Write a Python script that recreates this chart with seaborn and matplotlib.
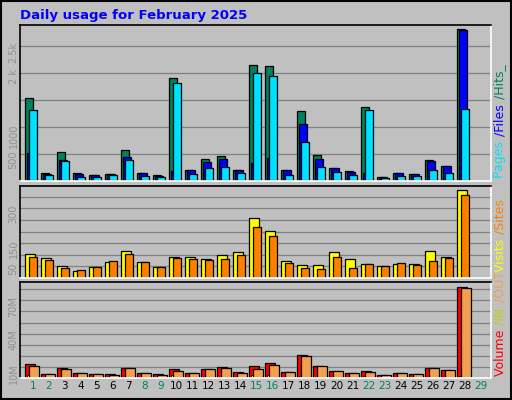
import matplotlib
matplotlib.use("Agg")
import matplotlib.pyplot as plt
import seaborn as sns
import numpy as np

days = list(range(1, 29))
day_labels = [str(d) for d in range(1, 30)]
weekend = {1, 2, 8, 9, 15, 16, 22, 23, 29}
hits = [1537,148,537,148,111,130,574,148,111,1907,204,407,463,204,2148,2130,204,1296,481,241,185,1370,74,148,130,389,278,2815]
files = [512,130,389,123,111,130,444,148,93,185,204,352,407,204,333,426,204,1056,407,241,167,148,74,148,130,370,278,2796]
pages = [1315,111,370,74,74,111,389,93,74,1815,130,241,259,148,2000,1944,111,722,259,167,111,1315,56,93,93,204,148,1333]
visits = [105,88,53,32,49,70,118,70,49,92,92,83,101,114,260,204,75,58,58,114,83,62,53,62,62,118,92,381]
sites = [92,79,45,36,49,75,105,70,49,88,83,79,83,101,222,183,66,45,40,92,45,62,53,66,58,75,88,360]
volume = [12.6,3.6,9,4.5,3.6,3.6,9,4.5,3.6,8.1,4.5,8.1,9.9,5.4,10.8,13.5,5.4,20.7,10.8,6.3,4.5,6.3,2.7,4.5,3.6,9,7.2,82]
vol_out = [10.8,3.6,8.1,4.5,3.6,2.7,9,4.5,2.7,6.3,4.5,8.1,9,4.5,8.1,11.7,5.4,19.8,10.8,6.3,4.5,5.4,2.7,4.5,3.6,9,7.2,81]
vol_in = [2.5,0.3,0.5,0.3,0.3,0.5,0.5,0.3,0.3,2.5,0.3,0.5,0.5,0.3,2.5,2.5,0.3,1.5,0.5,0.5,0.3,1.5,0.3,0.3,0.3,0.5,0.5,1.5]

sns.set_theme(style="white")
plt.rcParams['font.family'] = ['DejaVu Sans']
BG = "#C0C0C0"
fig = plt.figure(figsize=(5.12, 4.0), dpi=100, facecolor=BG)
fig.patches.append(plt.Rectangle((0.002, 0.002), 0.996, 0.996, transform=fig.transFigure,
                                 fill=False, edgecolor="black", lw=1.5))
fig.text(20/512, 1-15/400, "Daily usage for February 2025", color="#0000FF",
         fontsize=9.5, fontweight="bold", va="center", ha="left")

x = np.array(days, dtype=float)
L, W = 20/512, 471/512
axes = [fig.add_axes([L, 1-181/400, W, 156/400]),
        fig.add_axes([L, 1-278/400, W, 92/400]),
        fig.add_axes([L, 1-378/400, W, 96/400])]
for ax in axes:
    ax.set_facecolor(BG)
    ax.set_xlim(0.19, 29.65)
    for s in ["left", "top"]:
        ax.spines[s].set_color("black")
    for s in ["right", "bottom"]:
        ax.spines[s].set_color("white")
    for s in ax.spines.values():
        s.set_linewidth(1.2)
    ax.set_axisbelow(True)
    ax.tick_params(axis="y", length=0, labelsize=7, labelcolor="#909090", pad=1, labelrotation=90)
    ax.tick_params(axis="x", length=0)

kw = dict(edgecolor="black", linewidth=0.9)
a = axes[0]
a.set_ylim(0, 2889)
for g in [500, 1000, 1500, 2000, 2500]:
    a.axhline(g, color="#808080", lw=0.9, zorder=0)
a.bar(x-0.25, hits, 0.5, color="#00805C", **kw)
a.bar(x-0.125, files, 0.5, color="#0000FF", **kw)
a.bar(x, pages, 0.5, color="#00E0FF", **kw)
a.set_yticks([500, 1000, 2000, 2500], ["500", "1000", "2 k", "2.5k"])
a.set_xticks([])

a = axes[1]
a.set_ylim(0, 397)
for g in range(50, 400, 50):
    a.axhline(g, color="#808080", lw=0.9, zorder=0)
a.bar(x-0.19, visits, 0.625, color="#FFFF00", **kw)
a.bar(x, sites, 0.5, color="#FF8000", **kw)
a.set_yticks([50, 150, 300], ["50", "150", "300"])
a.set_xticks([])

a = axes[2]
a.set_ylim(0, 86.5)
for g in range(10, 90, 10):
    a.axhline(g, color="#808080", lw=0.9, zorder=0)
a.bar(x-0.19, volume, 0.625, color="#FF0000", **kw)
a.bar(x-0.31, vol_in, 0.12, color="#FFFF00", edgecolor="black", linewidth=0.5)
a.bar(x+0.06, vol_out, 0.625, color="#F0A050", **kw)
a.set_yticks([10, 40, 70], ["10M", "40M", "70M"])
a.set_xticks(range(1, 30), day_labels)
for t, d in zip(a.get_xticklabels(), range(1, 30)):
    t.set_color("#00805C" if d in weekend else "black")
    t.set_fontsize(7.5)
a.tick_params(axis="x", pad=2)

renderer = fig.canvas.get_renderer()

def side_label(parts, y_bottom):
    y = y_bottom
    for txt, col in parts:
        t = fig.text(500/512, y/400, txt, color=col, fontsize=9, rotation=90,
                     ha="center", va="bottom")
        bb = t.get_window_extent(renderer)
        y += bb.height + 1

side_label([("Pages ", "#00E0FF"), ("/Files ", "#0000FF"), ("/Hits_", "#00805C")], 400-178)
side_label([("Visits ", "#FFFF00"), ("/Sites", "#FF8000")], 400-272)
side_label([("Volume ", "#FF0000"), ("/IN ", "#C8D000"), ("/OUT", "#F0A050")], 400-376)

fig.savefig("out.png", dpi=100, facecolor=BG)
